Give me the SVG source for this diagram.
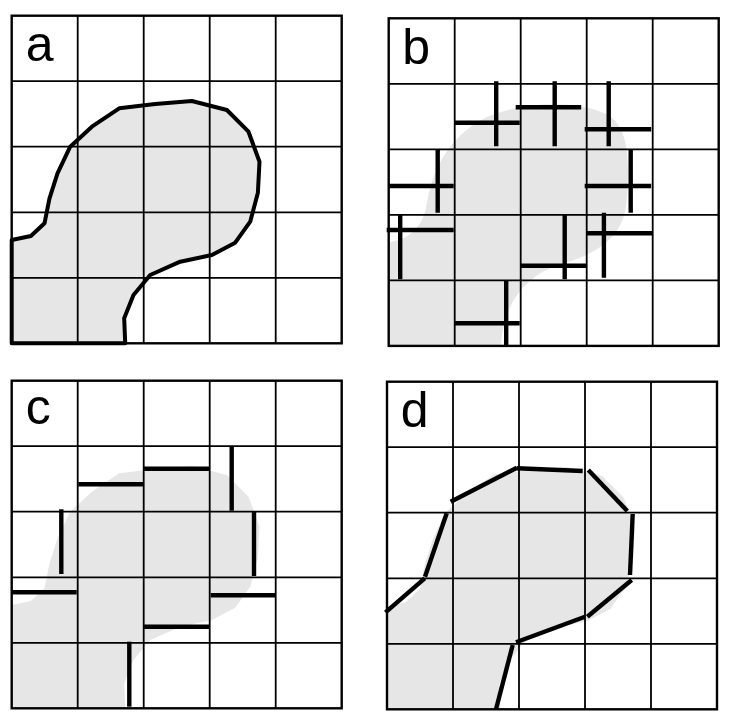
<svg xmlns="http://www.w3.org/2000/svg" width="732" height="715" viewBox="0 0 732 715">
<style>
.grid{fill:none;stroke:#000;stroke-width:1.8}
.border{fill:none;stroke:#000;stroke-width:2.4}
.blob{fill:#e6e6e6;stroke:none}
.outline{fill:none;stroke:#000;stroke-width:4;stroke-linejoin:round}
.seg{stroke:#000;stroke-width:4.4;fill:none;stroke-linecap:butt}
.lbl{font-family:"Liberation Sans",Arial,Helvetica,sans-serif;font-size:50px;fill:#000}
</style>
<defs>
<path id="blobshape" d="M0,224.3 L19.2,220.3 L32.8,207.6 L37.8,182.6 L45.8,157.6 L58.5,131 L80.2,111 L107.5,92.6 L143.5,88.3 L180.2,85.3 L215.2,94.3 L236.8,116 L247.8,146 L246.2,177 L238.5,206 L223.5,227 L200.2,239.3 L168.5,246 L138.5,259.3 L121.8,279.3 L112.5,302.6 L113.5,327.6 L0,327.6 Z"/>
<path id="blobsmooth" d="M0,224 C20,221 34,210 38,186 C44,152 58,122 92,102 C125,84 185,80 218,96 C243,110 240,150 238,182 C236,212 218,232 178,244 C142,254 116,278 112,327.6 L0,327.6 Z"/>
<g id="grid">
<path class="grid" d="M66,0V327.6M132,0V327.6M198,0V327.6M264,0V327.6M0,65.5H330M0,131H330M0,196.6H330M0,262.1H330"/>
<rect class="border" x="0" y="0" width="330" height="327.6"/>
</g>
</defs>

<g id="panel-a" transform="translate(11.7,15.7)">
<use href="#blobshape" class="blob"/>
<use href="#grid"/>
<use href="#blobshape" class="outline"/>
<text class="lbl" x="14" y="45.5">a</text>
</g>

<g id="panel-b" transform="translate(388.7,18.3)">
<use href="#blobsmooth" class="blob"/>
<use href="#grid"/>
<g id="crosses-b" class="seg">
<path d="M107.5,63V128M66,104.4H131"/>
<path d="M166,63V128M127,89H192.5"/>
<path d="M220,63V128M196,111H262.5"/>
<path d="M49,131V194.5M0,167.7H65"/>
<path d="M242,131V194.5M196,167.7H262.5"/>
<path d="M11.5,196.7V261M-2,211.7H65"/>
<path d="M176,196.7V261M131.5,247.4H197.5"/>
<path d="M215.2,194.4V259.4M197.5,215H263.5"/>
<path d="M117.5,261.7V326.7M66,305H131"/>
</g>
<text class="lbl" x="13.5" y="46">b</text>
</g>

<g id="panel-c" transform="translate(11.7,380.7)">
<use href="#blobshape" class="blob"/>
<use href="#grid"/>
<g id="segments-c" class="seg">
<path d="M66.6,103.6H131.6"/>
<path d="M132.3,88H197.6"/>
<path d="M220,65.3V130"/>
<path d="M49.6,128.6V193.3"/>
<path d="M242.3,131V195.3"/>
<path d="M0,211.6H65"/>
<path d="M132.3,246H197.6"/>
<path d="M199,214.6H263.6"/>
<path d="M117.6,261V326"/>
</g>
<text class="lbl" x="14" y="43.5">c</text>
</g>

<g id="panel-d" transform="translate(387,381.7)">
<use href="#blobshape" class="blob"/>
<use href="#grid"/>
<g id="segments-d" class="seg">
<path d="M-1.5,230.6L37.7,196.6"/>
<path d="M38,195L59.7,131.6"/>
<path d="M63.7,120L130,86"/>
<path d="M130,86.6L195.7,89.3"/>
<path d="M201.3,88.3L240.3,129.3"/>
<path d="M245.7,132.3L243,193.3"/>
<path d="M244.7,198.3L200.3,235"/>
<path d="M198,235L129,260.6"/>
<path d="M125.7,263.3L109,327.6"/>
</g>
<text class="lbl" x="13.7" y="45.3">d</text>
</g>
</svg>
